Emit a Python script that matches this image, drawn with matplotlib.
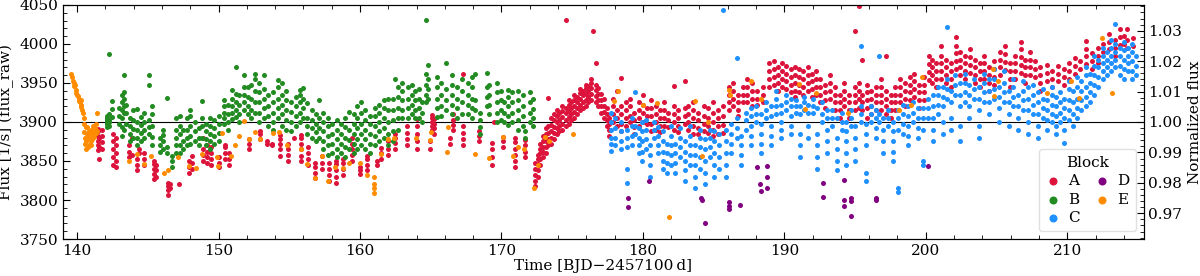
import matplotlib
matplotlib.use("Agg")
import matplotlib.pyplot as plt
from matplotlib.ticker import MultipleLocator, AutoMinorLocator

plt.rcParams['font.family'] = ['DejaVu Serif']

# light curve: (time, [fluxes at ~that time])
block_A = [
    (141.45, [3864, 3870, 3876, 3882, 3888, 3891]), (141.55, [3853, 3868, 3880]),
    (141.75, [3866, 3874, 3882, 3890]), (142.55, [3845, 3855, 3865, 3875, 3885]),
    (142.75, [3842, 3850, 3860, 3870, 3880]), (143.70, [3855, 3862, 3870]),
    (143.85, [3880, 3858]), (144.20, [3838, 3845, 3852]), (144.35, [3860, 3866]),
    (144.75, [3845, 3852, 3860]), (145.45, [3827, 3833, 3840, 3846, 3850]),
    (145.60, [3830, 3838, 3845]), (146.40, [3807, 3813, 3818, 3822]),
    (146.55, [3815, 3820]), (147.20, [3821]), (147.90, [3835, 3842, 3850]),
    (148.10, [3840, 3848, 3856]), (148.90, [3850, 3858, 3866, 3880]),
    (149.20, [3848, 3855, 3862, 3870]), (149.45, [3845, 3852, 3860, 3868]),
    (150.00, [3842, 3848, 3855]), (150.45, [3852, 3860, 3868, 3870]),
    (150.75, [3845, 3852, 3860]), (152.15, [3866, 3872, 3878]),
    (152.95, [3878, 3884, 3889]), (153.40, [3872, 3875]), (153.80, [3870, 3872]),
    (154.35, [3857, 3865, 3872, 3878, 3883]), (154.90, [3850, 3858, 3866, 3872]),
    (155.35, [3880]), (155.85, [3850, 3857, 3865, 3872, 3880, 3883]),
    (156.35, [3845, 3852, 3860, 3868]), (156.85, [3828, 3835, 3842, 3848]),
    (157.30, [3840, 3848, 3856]), (157.80, [3825, 3832, 3840, 3848]),
    (158.30, [3822, 3830, 3838, 3846, 3850]), (158.80, [3832, 3840, 3848, 3852]),
    (159.40, [3850, 3858, 3866, 3872, 3880]), (160.00, [3833, 3838, 3842]),
    (160.50, [3838, 3845, 3852, 3857]), (161.20, [3845, 3850]),
    (161.50, [3852, 3860, 3867]), (162.00, [3858, 3866, 3875]),
    (162.50, [3865, 3873, 3880, 3885]), (163.30, [3870, 3878, 3886, 3895]),
    (164.00, [3865, 3875, 3885, 3895, 3904]), (164.95, [3865, 3875]),
    (165.10, [3890, 3895, 3900, 3905, 3909]), (165.25, [3885, 3892, 3898, 3904]),
    (166.35, [3872, 3880]), (166.55, [3890, 3896, 3903, 3910]),
    (167.25, [3962, 3870, 3878, 3886, 3895]), (168.40, [3875, 3882, 3888]),
    (169.30, [3845, 3855, 3865, 3873]), (169.50, [3900]),
    (170.10, [3868, 3875, 3881]), (170.95, [3842, 3850, 3858, 3866, 3874, 3880]),
    (171.65, [3855, 3862, 3870, 3877]),
    (172.35, [3818, 3825, 3832, 3840, 3848]), (172.55, [3830, 3838, 3846, 3852, 3858]),
    (172.75, [3845, 3852, 3860, 3866, 3872]), (172.95, [3855, 3862, 3868, 3875, 3882]),
    (173.15, [3860, 3868, 3876, 3884, 3892]), (173.30, [3931, 3870, 3878, 3886, 3895]),
    (173.50, [3872, 3880, 3888, 3896, 3905]), (173.70, [3878, 3886, 3894, 3902, 3910]),
    (173.90, [3885, 3892, 3900, 3908, 3915]), (174.10, [3888, 3895, 3903, 3911]),
    (174.30, [3890, 3898, 3906, 3914, 3920]), (174.55, [4031, 3895, 3903, 3911, 3918]),
    (174.75, [3898, 3906, 3914, 3922, 3928]), (174.95, [3902, 3910, 3918, 3925]),
    (175.15, [3905, 3913, 3921, 3928, 3935]), (175.35, [3910, 3918, 3926, 3932]),
    (175.55, [3915, 3922, 3930, 3937, 3942]), (175.75, [3918, 3926, 3934, 3940]),
    (175.95, [3920, 3928, 3936, 3943, 3948]), (176.15, [3925, 3932, 3940, 3946]),
    (176.35, [3928, 3936, 3943, 3950, 3955]), (176.45, [4017]),
    (176.65, [3975, 3925, 3933, 3941, 3948]), (176.85, [3920, 3928, 3936, 3943]),
    (177.05, [3912, 3920, 3928, 3936]), (177.25, [3905, 3913, 3921, 3930]),
    (177.45, [3895, 3902, 3910, 3918]), (177.60, [3882, 3890, 3898, 3905]),
    (177.90, [3900, 3910, 3920, 3930]), (178.20, [3940, 3915, 3905, 3895]),
    (178.45, [3956, 3920, 3910, 3898, 3888]), (178.80, [3925, 3915, 3905, 3895]),
    (179.10, [3930, 3920, 3908, 3900]), (179.40, [3912, 3902, 3893, 3885]),
    (179.70, [3925, 3915, 3905, 3895]), (180.00, [3935, 3922, 3912, 3900]),
    (180.30, [3918, 3908, 3898]), (180.60, [3928, 3918, 3908, 3898, 3888]),
    (180.90, [3920, 3910, 3900, 3890]), (181.20, [3915, 3905, 3895, 3887]),
    (181.50, [3925, 3915, 3905, 3895]), (181.80, [3912, 3902, 3893]),
    (182.20, [3946, 3920, 3910, 3900, 3890]), (182.50, [3915, 3905, 3895, 3887]),
    (182.95, [3953, 3918, 3908, 3898]), (183.20, [3920, 3910, 3900, 3890]),
    (183.55, [3925, 3915, 3905, 3895, 3885]), (183.90, [3912, 3902, 3892, 3884]),
    (184.30, [3920, 3908, 3898, 3888]), (184.60, [3918, 3905, 3895, 3886]),
    (184.95, [3925, 3912, 3900, 3890, 3882]), (185.30, [3915, 3905, 3895, 3885]),
    (185.65, [3920, 3908, 3896, 3886]), (186.10, [3945, 3935, 3925, 3915]),
    (186.40, [3950, 3940, 3930, 3920]), (186.75, [3935, 3925, 3915, 3908]),
    (187.05, [3945, 3935, 3925]), (187.35, [3955, 3945, 3935, 3925]),
    (187.70, [3950, 3940, 3930, 3920]), (188.10, [3940, 3930, 3922]),
    (188.50, [3945, 3935, 3925]), (188.95, [3975, 3965, 3955, 3945]),
    (189.25, [3978, 3968, 3958, 3948]), (189.55, [3970, 3960, 3950, 3940]),
    (189.85, [3975, 3965, 3955, 3945]), (190.15, [3972, 3962, 3952, 3942]),
    (190.45, [3968, 3958, 3948, 3938]), (190.75, [3970, 3960, 3950, 3940, 3932]),
    (191.05, [3968, 3958, 3948, 3938]), (191.35, [3965, 3955, 3945, 3935]),
    (191.65, [3970, 3960, 3950, 3940]), (191.95, [3962, 3952, 3942, 3932]),
    (192.25, [3965, 3955, 3945, 3935]), (192.55, [3955, 3945, 3935, 3925]),
    (192.85, [3948, 3938, 3928, 3918]), (193.20, [3960, 3950, 3940, 3930]),
    (193.55, [3945, 3935, 3925, 3915]), (193.90, [3935, 3925, 3915, 3905]),
    (194.25, [3950, 3940, 3930, 3920]), (194.60, [3935, 3925, 3915, 3905]),
    (195.00, [4016, 3945, 3935, 3925, 3915]), (195.30, [4049, 3950, 3940, 3930, 3918]),
    (195.50, [3979, 3935, 3925, 3915]), (195.85, [3948, 3938, 3928, 3918, 3905]),
    (196.15, [3940, 3930, 3920, 3910]), (196.45, [3945, 3935, 3925, 3915]),
    (196.80, [3955, 3945, 3935, 3925, 3915]), (197.20, [3984, 3940, 3930, 3920, 3910]),
    (197.55, [3935, 3925, 3915, 3905]), (197.85, [3945, 3935, 3925, 3915]),
    (198.20, [3955, 3945, 3935, 3925]), (198.55, [3950, 3940, 3930, 3920]),
    (198.90, [3958, 3948, 3938, 3928]), (199.20, [3962, 3952, 3942, 3932]),
    (199.50, [3948, 3938, 3928, 3918]), (199.85, [3958, 3948, 3938, 3928]),
    (200.20, [3984, 3974, 3964, 3954]), (200.45, [3980, 3970, 3960, 3950]),
    (200.75, [3975, 3965, 3955, 3945]), (201.10, [3997, 3985, 3975, 3965, 3955]),
    (201.40, [3980, 3970, 3960, 3950]), (201.75, [3975, 3965, 3955, 3945]),
    (202.15, [4009, 3998, 3988, 3978, 3968]), (202.45, [3990, 3980, 3970, 3960]),
    (202.80, [3985, 3975, 3965, 3955]), (203.15, [3993, 3983, 3973, 3963]),
    (203.45, [3980, 3970, 3960, 3950]), (203.80, [3975, 3965, 3955, 3945]),
    (204.15, [3985, 3975, 3965, 3955]), (204.50, [3970, 3960, 3950, 3940]),
    (204.85, [3978, 3968, 3958, 3948]), (205.25, [3990, 3980, 3970, 3960]),
    (205.60, [3997, 3987, 3977, 3967]), (205.95, [3975, 3965, 3955, 3945]),
    (206.30, [3985, 3975, 3965, 3955]), (206.70, [4003, 3993, 3983, 3973, 3963]),
    (207.05, [3980, 3970, 3960, 3950]), (207.40, [3990, 3980, 3970, 3960]),
    (207.75, [3978, 3968, 3958]), (208.10, [3970, 3960, 3950, 3940]),
    (208.55, [3973, 3963, 3953]), (208.95, [3965, 3955, 3945]),
    (209.35, [3972, 3962, 3952]), (209.75, [3968, 3958, 3948]),
    (210.15, [3975, 3965, 3955]), (210.55, [3982, 3972, 3962]),
    (210.90, [3978, 3968]), (211.30, [4004, 3994, 3984, 3974]),
    (211.75, [3988, 3978, 3968]), (212.15, [3995, 3985, 3975]),
    (212.55, [4000, 3990]), (212.95, [4013, 4003, 3993]),
    (213.35, [4005, 3995, 3985]), (213.70, [4019, 4009, 3999]),
    (214.00, [4010, 4000]), (214.25, [4019, 4005, 3995]), (214.65, [4008, 3998]),
]

block_B = [
    (142.10, [3893, 3897, 3901, 3905, 3908, 3899, 3903]), (142.25, [3987, 3895, 3903, 3910, 3900]),
    (142.45, [3927, 3917, 3906]), (142.95, [3898, 3908, 3918]),
    (143.15, [3882, 3893, 3905, 3915, 3925, 3935]), (143.30, [3939, 3930, 3921, 3911, 3960, 3890]),
    (143.45, [3898, 3912, 3922]), (143.75, [3875, 3885, 3895, 3905]),
    (143.95, [3880, 3891, 3902, 3915]), (144.20, [3870, 3880, 3890, 3900, 3917]),
    (144.50, [3875, 3886, 3896, 3906]), (144.70, [3880, 3890, 3900, 3912]),
    (145.05, [3960, 3947, 3885, 3893, 3903]), (145.30, [3870, 3881, 3895, 3910, 3920]),
    (145.85, [3862, 3870, 3880]), (146.05, [3865, 3875, 3883, 3890]),
    (146.35, [3931, 3860, 3868]), (146.70, [3842, 3850, 3857]),
    (147.00, [3860, 3870, 3880, 3890, 3905]), (147.25, [3860, 3871, 3885, 3895, 3908]),
    (147.45, [3865, 3876, 3890]), (147.80, [3870, 3880, 3890, 3905]),
    (148.00, [3872, 3882, 3895, 3908, 3915]), (148.30, [3875, 3888, 3900]),
    (148.60, [3870, 3880, 3892]), (148.85, [3927, 3880, 3895, 3905]),
    (149.10, [3870, 3878, 3888, 3898]), (149.40, [3865, 3875, 3885, 3895, 3905]),
    (149.70, [3872, 3882, 3892, 3902]), (150.00, [3875, 3886, 3897, 3908]),
    (150.35, [3898, 3905, 3912, 3920, 3928]), (150.65, [3890, 3900, 3910, 3922]),
    (150.95, [3904, 3912, 3920, 3930, 3941]), (151.20, [3971, 3906, 3916, 3926, 3936]),
    (151.45, [3900, 3910, 3922, 3935]), (151.80, [3960, 3915, 3925, 3935, 3945]),
    (152.05, [3910, 3920, 3932, 3945]), (152.30, [3905, 3915, 3930, 3948]),
    (152.55, [3961, 3912, 3925, 3940, 3955]), (152.85, [3900, 3912, 3925, 3938, 3950]),
    (153.20, [3960, 3905, 3918, 3930, 3942]), (153.50, [3895, 3908, 3920, 3935]),
    (153.85, [3890, 3900, 3912, 3925, 3938]), (154.20, [3954, 3905, 3918, 3930, 3945]),
    (154.50, [3895, 3910, 3922, 3935, 3950]), (154.80, [3890, 3902, 3915, 3928, 3940]),
    (155.10, [3888, 3900, 3913, 3925]), (155.45, [3895, 3908, 3920, 3932]),
    (155.75, [3941, 3900, 3912, 3925, 3935]), (155.95, [3943, 3905, 3918, 3930]),
    (156.25, [3924, 3885, 3895, 3905]), (156.60, [3880, 3892, 3903, 3915]),
    (156.90, [3875, 3887, 3898, 3910]), (157.10, [3928, 3880, 3892, 3905]),
    (157.40, [3865, 3876, 3888, 3900, 3912]), (157.75, [3858, 3870, 3882, 3895, 3905]),
    (158.05, [3860, 3872, 3885, 3898]), (158.35, [3855, 3866, 3878, 3890, 3903]),
    (158.65, [3860, 3872, 3885, 3897]), (158.95, [3855, 3868, 3880, 3893, 3905]),
    (159.25, [3913, 3865, 3877, 3890]), (159.55, [3860, 3872, 3885, 3898, 3910]),
    (159.80, [3865, 3878, 3892, 3905, 3920]), (160.05, [3870, 3884, 3898, 3912, 3926]),
    (160.35, [3865, 3878, 3890, 3902, 3915]), (160.70, [3860, 3872, 3885, 3897, 3908]),
    (161.05, [3870, 3882, 3895, 3908, 3918]), (161.35, [3875, 3888, 3900, 3912, 3922]),
    (161.70, [3880, 3892, 3905, 3918, 3928]), (162.00, [3870, 3885, 3900, 3915, 3930]),
    (162.30, [3875, 3888, 3902, 3916, 3930]), (162.45, [3955]),
    (162.65, [3945, 3890, 3905, 3918, 3932]), (162.95, [3905, 3915, 3928, 3940, 3950]),
    (163.40, [3905, 3918, 3930, 3945]), (163.65, [3910, 3922, 3935, 3948]),
    (163.90, [3905, 3915, 3928, 3940]), (164.20, [3905, 3918, 3930, 3942]),
    (164.40, [3900, 3912, 3925]), (164.65, [4031, 3925, 3935, 3948, 3962]),
    (164.80, [3973, 3930, 3942, 3955]), (165.45, [3906, 3918, 3930, 3945, 3958]),
    (165.75, [3908, 3920, 3935, 3950]), (166.05, [3975, 3915, 3928, 3942]),
    (166.50, [3910, 3922, 3935, 3948, 3960]), (166.85, [3905, 3918, 3930, 3945]),
    (167.20, [3910, 3925, 3940, 3955]), (167.65, [3910, 3922, 3935, 3950]),
    (167.95, [3905, 3918, 3930, 3945, 3958]), (168.15, [3962, 3915, 3928]),
    (168.45, [3885, 3893, 3902, 3912]), (168.95, [3963, 3920, 3932, 3945]),
    (169.10, [3910, 3922, 3935, 3948]), (169.65, [3900, 3912, 3925, 3938, 3950]),
    (169.95, [3902, 3915, 3928, 3940]), (170.20, [3900, 3912, 3925]),
    (170.45, [3896, 3908, 3920, 3932, 3941]), (170.75, [3900, 3912, 3925, 3938]),
    (171.15, [3890, 3902, 3915, 3928, 3940]), (171.50, [3895, 3908, 3920, 3935]),
    (171.65, [3880, 3888]), (172.05, [3900, 3912, 3925, 3938]),
    (172.25, [3895, 3905, 3917, 3930]),
]

block_C = [
    (177.75, [3863, 3872, 3880, 3890, 3900, 3911]), (178.05, [3870, 3880, 3892, 3905]),
    (178.45, [3865, 3875, 3888, 3900]), (178.90, [3840, 3822, 3868, 3880, 3890]),
    (179.20, [3870, 3882, 3895, 3905]), (179.45, [3939, 3885, 3895]),
    (179.70, [3860, 3870, 3880, 3892]), (179.95, [3850, 3862, 3875, 3888, 3900]),
    (180.25, [3865, 3878, 3890, 3902]), (180.50, [3830, 3845, 3858, 3870]),
    (180.80, [3880, 3890, 3900]), (181.10, [3860, 3870, 3882, 3893]),
    (181.40, [3840, 3850, 3862, 3875, 3888]), (181.70, [3835, 3848, 3860, 3872]),
    (182.00, [3845, 3858, 3870, 3882, 3895]), (182.30, [3835, 3848, 3860, 3872]),
    (182.60, [3855, 3868, 3880, 3892]), (182.95, [3825, 3838, 3850, 3862, 3875]),
    (183.30, [3845, 3858, 3870, 3882, 3895]), (183.70, [3815, 3830, 3845, 3858, 3870]),
    (184.05, [3840, 3855, 3868, 3880, 3890]), (184.40, [3820, 3835, 3850, 3865, 3878]),
    (184.75, [3855, 3868, 3880, 3890]), (185.05, [3830, 3845, 3860, 3875, 3888]),
    (185.40, [3840, 3855, 3870, 3885]), (185.65, [4044]),
    (185.85, [3830, 3845, 3860, 3875, 3890]), (186.20, [3860, 3872, 3885, 3898]),
    (186.65, [3982, 3880, 3892, 3905]), (186.95, [3845, 3858, 3870, 3882]),
    (187.30, [3890, 3902, 3912]), (187.65, [3870, 3882, 3895, 3908, 3918]),
    (188.00, [3900, 3910, 3920]), (188.35, [3860, 3872, 3885, 3898, 3910]),
    (188.70, [3905, 3915, 3925]), (189.05, [3870, 3882, 3895, 3908, 3920]),
    (189.40, [3910, 3920, 3930, 3940]), (189.75, [3880, 3890, 3900, 3912, 3922]),
    (190.10, [3915, 3925, 3935]), (190.45, [3885, 3895, 3908, 3920, 3930]),
    (190.80, [3912, 3920, 3928]), (191.10, [3855, 3870, 3885, 3910, 3920]),
    (191.40, [3915, 3925, 3932]), (191.70, [3880, 3895, 3912, 3922]),
    (192.00, [3912, 3920, 3930]), (192.30, [3840, 3855, 3870, 3885, 3918]),
    (192.65, [3900, 3910, 3925]), (193.00, [3860, 3875, 3890, 3905, 3915]),
    (193.35, [3895, 3905, 3915]), (193.70, [3838, 3850, 3865, 3880, 3905]),
    (194.05, [3890, 3900, 3912]), (194.35, [3845, 3860, 3875, 3888, 3900]),
    (194.70, [3895, 3905, 3915]), (195.00, [3850, 3865, 3880, 3895]),
    (195.40, [3997, 3900, 3910, 3920]), (195.75, [3825, 3835, 3870, 3885, 3898]),
    (196.10, [3900, 3910, 3920]), (196.45, [3880, 3892, 3905, 3915]),
    (196.70, [3984, 3900, 3910]), (197.00, [3860, 3875, 3890, 3905]),
    (197.35, [3895, 3905, 3915]), (197.70, [3850, 3862, 3875, 3888, 3900]),
    (198.05, [3810, 3815, 3890, 3905, 3915]), (198.40, [3885, 3898, 3910, 3922]),
    (198.75, [3870, 3882, 3895, 3908, 3920]), (199.10, [3900, 3912, 3925]),
    (199.45, [3880, 3892, 3905, 3918]), (199.80, [3845, 3850, 3890, 3905, 3918]),
    (200.15, [3905, 3918, 3930]), (200.50, [3875, 3890, 3905, 3920, 3935]),
    (200.85, [3910, 3922, 3935, 3945]), (201.20, [3885, 3900, 3920, 3932, 3945]),
    (201.50, [4022, 3930, 3942, 3955]), (201.80, [3890, 3905, 3925, 3940]),
    (202.10, [3935, 3948, 3960]), (202.40, [3875, 3895, 3920, 3935, 3950]),
    (202.75, [3925, 3938, 3950, 3962]), (203.05, [3905, 3920, 3935, 3948]),
    (203.40, [3930, 3942, 3955]), (203.75, [3880, 3895, 3915, 3930, 3945]),
    (204.10, [3925, 3938, 3950, 3962]), (204.45, [3910, 3925, 3940, 3955]),
    (204.80, [3930, 3942, 3955, 3968]), (205.15, [3900, 3918, 3932, 3945]),
    (205.50, [3925, 3938, 3950, 3965]), (205.85, [3895, 3910, 3925, 3940]),
    (206.20, [3920, 3932, 3945, 3955]), (206.55, [3890, 3905, 3920, 3935]),
    (206.90, [3915, 3928, 3940, 3952]), (207.25, [3885, 3900, 3915, 3930, 3945]),
    (207.60, [3910, 3922, 3935, 3948]), (207.95, [3880, 3895, 3910, 3925, 3938]),
    (208.30, [3905, 3918, 3930, 3942]), (208.60, [3890, 3902, 3915, 3928]),
    (208.90, [3900, 3910, 3922, 3935, 3945]), (209.20, [3885, 3895, 3908, 3920, 3932]),
    (209.50, [3900, 3912, 3925, 3938]), (209.80, [3873, 3890, 3905, 3918, 3930]),
    (210.10, [3902, 3915, 3928, 3942, 3952]), (210.40, [3895, 3910, 3925, 3940]),
    (210.70, [3905, 3918, 3930, 3945, 3958]), (211.00, [3915, 3928, 3940, 3952]),
    (211.30, [3920, 3932, 3945, 3960, 3970]), (211.60, [3925, 3938, 3950, 3962]),
    (211.90, [3935, 3948, 3960, 3972, 3984]), (212.20, [3945, 3958, 3970, 3980]),
    (212.50, [3955, 3965, 3975, 3985, 3995]), (212.80, [3960, 3970, 3980, 3990]),
    (213.10, [3965, 3975, 3985, 3995, 4005]), (213.40, [4026, 3970, 3980, 3990, 4000]),
    (213.70, [3960, 3972, 3985, 3995]), (214.00, [3955, 3968, 3980, 3992, 4002]),
    (214.30, [3965, 3975, 3985, 3995]), (214.60, [3955, 3965, 3978, 3990, 4000]),
    (214.85, [3960, 3972, 3985]),
]

block_D_time = [178.92, 178.92, 180.45, 184.10, 184.15, 184.40, 186.10, 186.10, 186.12,
                186.86, 188.10, 188.30, 188.35, 188.77, 188.77, 188.77, 192.70, 192.72,
                194.19, 194.19, 194.20, 194.70, 194.72, 194.71, 196.45, 196.47, 200.13]
block_D_flux = [3803, 3791, 3825, 3803, 3800, 3771, 3797, 3792, 3788,
                3793, 3842, 3821, 3812, 3843, 3830, 3815, 3822, 3804,
                3826, 3800, 3792, 3803, 3799, 3779, 3802, 3800, 3844]

block_E_time = [139.55, 139.62, 139.68, 139.75, 139.80, 139.85, 139.90, 139.95, 140.00, 140.05,
                140.10, 140.15, 140.20, 140.25, 140.30, 140.35, 140.40, 140.30, 140.45, 140.50,
                140.50, 140.55, 140.58, 140.62, 140.65, 140.70, 140.72, 140.78, 140.82, 140.85,
                140.90, 140.95, 141.00, 141.05, 141.08, 141.12, 141.15, 141.20, 141.25, 141.30,
                141.35, 141.40, 141.43, 140.60, 140.75, 141.00,
                143.67, 144.26, 144.73, 145.20, 146.15, 146.45, 147.15, 147.91, 148.38, 148.85,
                149.88, 149.95, 150.26, 150.89, 151.13, 151.41, 151.83, 152.12, 152.59, 152.90,
                153.84, 154.30, 154.85, 155.84, 156.26, 156.80, 157.30, 157.77, 158.26, 158.80,
                159.25, 160.00, 160.47, 161.01, 161.00, 161.02, 161.00, 161.48, 161.96, 162.43,
                163.96, 165.02, 164.97, 166.20, 166.15, 168.13, 169.14, 170.10, 170.84, 171.15,
                171.62, 172.32, 172.56, 173.08, 173.34, 175.03, 177.98, 178.26, 179.98, 181.00,
                181.87, 183.68, 184.18, 184.60, 186.10, 186.15, 187.64, 188.35, 191.06, 191.48,
                192.23, 194.47, 198.12, 198.95, 199.70, 204.72, 205.08, 204.79, 208.60, 210.26,
                210.85, 212.49, 213.19]
block_E_flux = [3962, 3958, 3953, 3950, 3946, 3948, 3941, 3937, 3935, 3933,
                3930, 3927, 3925, 3922, 3919, 3915, 3912, 3928, 3905, 3898,
                3887, 3880, 3872, 3866, 3876, 3885, 3893, 3879, 3870, 3888,
                3882, 3875, 3890, 3884, 3878, 3895, 3887, 3881, 3892, 3886,
                3897, 3889, 3911, 3894, 3868, 3870,
                3850, 3859, 3846, 3856, 3834, 3839, 3855, 3844, 3841, 3859,
                3855, 3843, 3886, 3856, 3871, 3882, 3901, 3878, 3887, 3878,
                3886, 3887, 3870, 3866, 3846, 3828, 3857, 3825, 3842, 3841,
                3847, 3847, 3832, 3829, 3820, 3815, 3809, 3859, 3878, 3879,
                3879, 3887, 3877, 3894, 3861, 3859, 3854, 3881, 3857, 3868,
                3866, 3815, 3845, 3881, 3875, 3884, 3927, 3940, 3922, 3924,
                3778, 3927, 3856, 3900, 3941, 3935, 3952, 3930, 3949, 3917,
                3937, 3911, 3916, 3922, 3958, 3968, 3953, 3933, 3937, 3952,
                3931, 4008, 3937]

block_names = ['A', 'B', 'C', 'D', 'E']
block_colors = ['crimson', 'forestgreen', 'dodgerblue', 'purple', 'darkorange']
ref_flux = 3900


def unpack(streaks):
    t = [s[0] for s in streaks for _ in s[1]]
    f = [v for s in streaks for v in s[1]]
    return t, f


series = [unpack(block_A), unpack(block_B), unpack(block_C),
          (block_D_time, block_D_flux), (block_E_time, block_E_flux)]

fig = plt.figure(figsize=(12, 2.76), dpi=100)
ax = fig.add_axes([0.0525, 0.134, 0.9005, 0.848])

for (t, f), name, col in zip(series, block_names, block_colors):
    ax.scatter(t, f, s=13, color=col, label=name, linewidths=0, zorder=2)

ax.axhline(ref_flux, color='black', lw=0.8, zorder=1)

ax.set_xlim(139, 215.4)
ax.set_ylim(3750, 4050)
ax.xaxis.set_major_locator(MultipleLocator(10))
ax.xaxis.set_minor_locator(MultipleLocator(2))
ax.yaxis.set_major_locator(MultipleLocator(50))
ax.yaxis.set_minor_locator(MultipleLocator(10))
ax.tick_params(which='both', direction='in', top=True, right=False, labelsize=11)
ax.tick_params(which='major', length=5)
ax.tick_params(which='minor', length=3)
ax.set_xlabel('Time [BJD\u22122457100\u2009d]', fontsize=11, labelpad=1)
ax.set_ylabel('Flux [1/s] (flux_raw)', fontsize=11)

ax2 = ax.twinx()
ax2.set_ylim(3750 / ref_flux, 4050 / ref_flux)
ax2.yaxis.set_major_locator(MultipleLocator(0.01))
ax2.yaxis.set_minor_locator(AutoMinorLocator(5))
ax2.tick_params(which='both', direction='in', labelsize=11)
ax2.tick_params(which='major', length=5)
ax2.tick_params(which='minor', length=3)
ax2.set_ylabel('Normalized flux', fontsize=11)

leg = ax.legend(title='Block', ncol=2, loc='lower right', fontsize=11, title_fontsize=11,
                markerscale=1.6, handlelength=1.0, handletextpad=0.5, columnspacing=1.0,
                borderpad=0.4, labelspacing=0.3, framealpha=0.9)
leg.get_frame().set_edgecolor('#dddddd')

fig.savefig('out.png', dpi=100)
